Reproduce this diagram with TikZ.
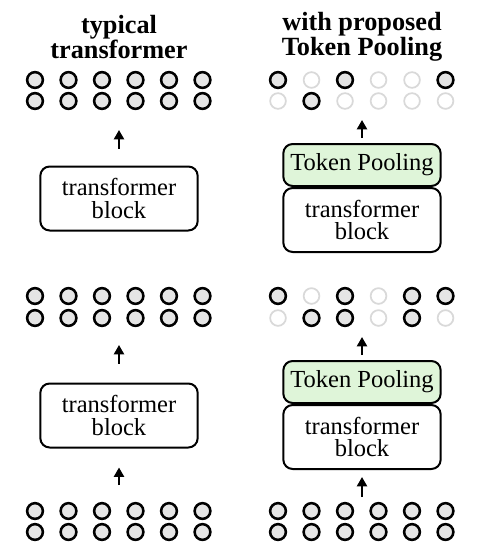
\documentclass[tikz,border=0pt]{standalone}
\usepackage{fontspec}
\setmainfont{Liberation Serif}
\usetikzlibrary{positioning,arrows.meta}
\definecolor{poolgreen}{RGB}{223,245,217}
\tikzset{
  tok1/.style={circle, draw=black, fill=gray!20, line width=1.9pt, minimum size=11.8pt, inner sep=0pt},
  tok0/.style={circle, draw=gray!30, fill=white, line width=1.3pt, minimum size=11.8pt, inner sep=0pt},
  blk/.style={draw, rounded corners=7pt, line width=1.5pt, minimum width=118pt, minimum height=48pt,
    align=center, font=\fontsize{18.4}{17}\selectfont},
  pool/.style={blk, fill=poolgreen, minimum height=31.5pt},
  ttl/.style={align=center, font=\fontsize{19.7}{17.3}\selectfont\bfseries},
  arr/.style={-{Triangle[length=7pt,width=7.5pt]}, line width=1.6pt},
}

\begin{document}
\begin{tikzpicture}[x=0.75pt, y=-0.75pt]
    \useasboundingbox (0,0) rectangle (480,560);

    % Typical transformer (left)
    \node[ttl] (ttlL) at (119,37) {typical\\transformer};

    \foreach \i in {1,...,6} {
        \node[tok1] (lb1-\i) at ({35+33.5*(\i-1)},511) {};
        \node[tok1] (lb2-\i) at ({35+33.5*(\i-1)},532) {};
        \node[tok1] (lm1-\i) at ({35+33.5*(\i-1)},296) {};
        \node[tok1] (lm2-\i) at ({35+33.5*(\i-1)},318) {};
        \node[tok1] (lt1-\i) at ({35+33.5*(\i-1)},80) {};
        \node[tok1] (lt2-\i) at ({35+33.5*(\i-1)},101) {};
    }

    \node[blk] (blkL1) at (119,415.5) {transformer\\block};
    \node[blk] (blkL2) at (119,198.5) {transformer\\block};

    \coordinate (lb) at (119,503);
    \coordinate (lm) at (119,326);
    \coordinate (lt) at (119,109);

    \draw[arr, shorten <=13.5pt, shorten >=14.25pt] (lb) -- (blkL1.south);
    \draw[arr, shorten <=14.25pt, shorten >=14.25pt] (blkL1.north) -- (lm);
    \draw[arr, shorten <=12.75pt, shorten >=15.75pt] (blkL2.north) -- (lt);

    % With proposed Token Pooling (right)
    \begin{scope}[xshift=182.25pt]
        \node[ttl] (ttlR) at (119,37) {with proposed\\Token Pooling};

        \foreach \i in {1,...,6} {
            \node[tok1] (rb1-\i) at ({35+33.5*(\i-1)},511) {};
            \node[tok1] (rb2-\i) at ({35+33.5*(\i-1)},532) {};
        }
        \foreach \v [count=\i] in {1,0,1,0,1,1}
            \node[tok\v] (rm1-\i) at ({35+33.5*(\i-1)},296) {};
        \foreach \v [count=\i] in {0,1,1,0,1,0}
            \node[tok\v] (rm2-\i) at ({35+33.5*(\i-1)},318) {};
        \foreach \v [count=\i] in {1,0,1,0,0,1}
            \node[tok\v] (rt1-\i) at ({35+33.5*(\i-1)},80) {};
        \foreach \v [count=\i] in {0,1,0,0,0,0}
            \node[tok\v] (rt2-\i) at ({35+33.5*(\i-1)},101) {};

        \node[blk] (blkR1) at (119,437) {transformer\\block};
        \node[pool, above=0pt of blkR1] (poolR1) {Token Pooling};
        \node[blk] (blkR2) at (119,220) {transformer\\block};
        \node[pool, above=0pt of blkR2] (poolR2) {Token Pooling};

        \coordinate (rb) at (119,503);
        \coordinate (rm) at (119,326);
        \coordinate (rt) at (119,109);

        \draw[arr, shorten <=4.5pt, shorten >=5.25pt] (rb) -- (blkR1.south);
        \draw[arr, shorten <=3.75pt, shorten >=8.25pt] (poolR1.north) -- (rm);
        \draw[arr, shorten <=3.75pt, shorten >=8.25pt] (poolR2.north) -- (rt);
    \end{scope}
\end{tikzpicture}
\end{document}
